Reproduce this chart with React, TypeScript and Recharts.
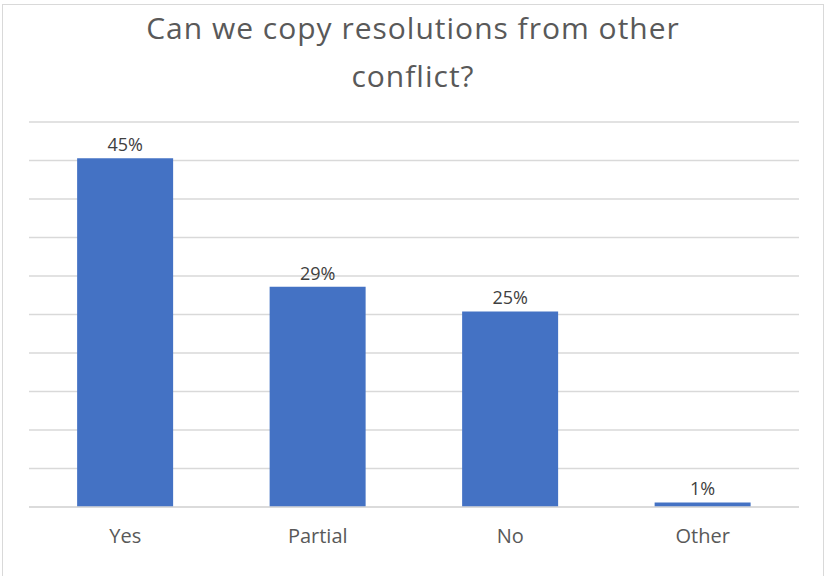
import { Bar, BarChart, CartesianGrid, LabelList, XAxis, YAxis } from "recharts";

const categories = ["Yes", "Partial", "No", "Other"];
const shares = [45.3, 28.6, 25.4, 0.6];
const yTicks = [0, 5, 10, 15, 20, 25, 30, 35, 40, 45, 50];

const data = categories.map((name, i) => ({ name, share: shares[i] }));

const font = "'Open Sans', 'Noto Sans', sans-serif";

export default function App() {
  return (
    <div
      style={{
        position: "absolute",
        left: 0,
        top: 0,
        width: 826,
        height: 576,
        background: "#fff",
        fontFamily: font,
      }}
    >
      <div
        style={{
          position: "absolute",
          left: 2,
          top: 4,
          width: 822,
          height: 580,
          border: "1px solid #d9d9d9",
          boxSizing: "border-box",
        }}
      />
      <div
        style={{
          position: "absolute",
          left: 0,
          top: 4,
          width: 826,
          textAlign: "center",
          color: "#595959",
          fontSize: 30,
          letterSpacing: 1,
          lineHeight: "48px",
        }}
      >
        Can we copy resolutions from other
        <br />
        conflict?
      </div>
      <div style={{ position: "absolute", left: 0, top: 0 }}>
        <BarChart
          width={826}
          height={576}
          data={data}
          margin={{ top: 122, right: 27, bottom: 39, left: 29 }}
          barCategoryGap="25%"
        >
          <CartesianGrid vertical={false} stroke="#d9d9d9" strokeWidth={1.5} />
          <YAxis hide domain={[0, 50]} ticks={yTicks} />
          <XAxis
            dataKey="name"
            height={30}
            axisLine={{ stroke: "#d9d9d9", strokeWidth: 1.5 }}
            tickLine={false}
            tickSize={0}
            tickMargin={22}
            tick={{ fill: "#595959", fontSize: 20, fontFamily: font }}
          />
          <Bar dataKey="share" fill="#4472C4" isAnimationActive={false}>
            <LabelList
              dataKey="share"
              position="top"
              offset={7}
              formatter={(v: any) => `${Math.round(Number(v)) || 1}%`}
              style={{ fill: "#404040", fontSize: 18, fontFamily: font }}
            />
          </Bar>
        </BarChart>
      </div>
    </div>
  );
}
